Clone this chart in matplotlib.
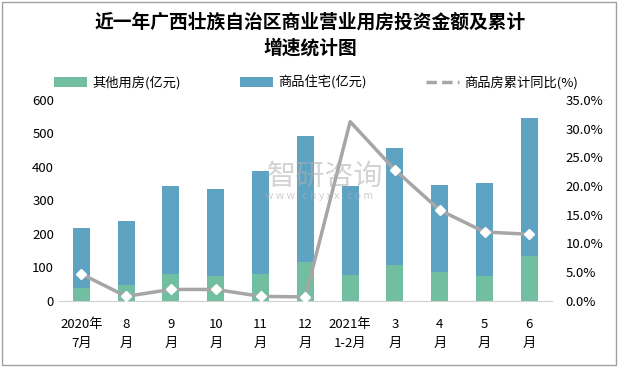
import matplotlib.pyplot as plt
import numpy as np

plt.rcParams['font.family'] = ['Noto Sans CJK SC', 'DejaVu Sans']

months = ['2020年\n7月', '8\n月', '9\n月', '10\n月', '11\n月', '12\n月',
          '2021年\n1-2月', '3\n月', '4\n月', '5\n月', '6\n月']
other = [40, 47, 80, 74, 80, 116, 76, 107, 86, 74, 134]
total = [218, 239, 343, 334, 388, 492, 343, 456, 346, 352, 546]
housing = [t - o for t, o in zip(total, other)]
growth = [4.7, 0.8, 2.0, 2.0, 0.8, 0.7, 31.2, 22.8, 15.8, 12.0, 11.6]

green = '#72BEA0'
blue = '#5FA3C3'
gray = '#A6A6A6'

fig = plt.figure(figsize=(6.2, 3.67), dpi=100)
ax = fig.add_axes([0.095, 0.18, 0.795, 0.548])
x = np.arange(len(months))
ax.bar(x, other, width=0.38, color=green, label='其他用房(亿元)', zorder=2)
ax.bar(x, housing, width=0.38, bottom=other, color=blue, label='商品住宅(亿元)', zorder=2)
ax.set_ylim(0, 600)
ax.set_xlim(-0.5, len(months) - 0.5)
ax.set_yticks(range(0, 601, 100))
ax.set_xticks(x)
ax.set_xticklabels(months, fontsize=9.5, linespacing=1.6)
ax.tick_params(axis='both', length=0, labelsize=9.5)
ax.tick_params(axis='x', pad=12)
for s in ['top', 'left', 'right']:
    ax.spines[s].set_visible(False)
ax.spines['bottom'].set_color('#D0D0D0')

ax2 = ax.twinx()
mk = [i for i in range(len(growth)) if i != 6]
ax2.plot(x, growth, color=gray, lw=2.5, marker='D', markersize=5,
         markerfacecolor='white', markeredgecolor='white', markevery=mk, zorder=3)
ax2.plot([], [], color=gray, lw=2.5, ls=(0, (3, 1.5)), label='商品房累计同比(%)')
ax2.set_ylim(0, 35)
ax2.set_yticks(np.arange(0, 36, 5))
ax2.set_yticklabels([f'{v:.1f}%' for v in np.arange(0, 36, 5)])
ax2.tick_params(axis='y', length=0, labelsize=9.5, pad=10)
for s in ['top', 'left', 'right', 'bottom']:
    ax2.spines[s].set_visible(False)

h1, l1 = ax.get_legend_handles_labels()
h2, l2 = ax2.get_legend_handles_labels()
fig.legend(h1 + h2, l1 + l2, loc='center', bbox_to_anchor=(0.51, 0.775), ncol=3,
           frameon=False, fontsize=9.5, handlelength=2.5, columnspacing=4.5,
           handletextpad=0.4)

fig.text(0.5, 0.905, '近一年广西壮族自治区商业营业用房投资金额及累计\n增速统计图',
         ha='center', va='center', fontsize=13.5, fontweight='bold', linespacing=1.45)

fig.text(0.525, 0.518, '智研咨询', ha='center', va='center', fontsize=21,
         color='#B0B0B0', alpha=0.55, zorder=5)
fig.text(0.515, 0.465, 'w w w . c h y x x . c o m', ha='center', va='center',
         fontsize=7.5, color='#B0B0B0', alpha=0.6, zorder=5)

border = plt.Rectangle((0.004, 0.006), 0.99, 0.988, transform=fig.transFigure,
                       fill=False, ec='#A0A0A0', lw=1)
fig.patches.append(border)

fig.savefig('out.png', dpi=100)
